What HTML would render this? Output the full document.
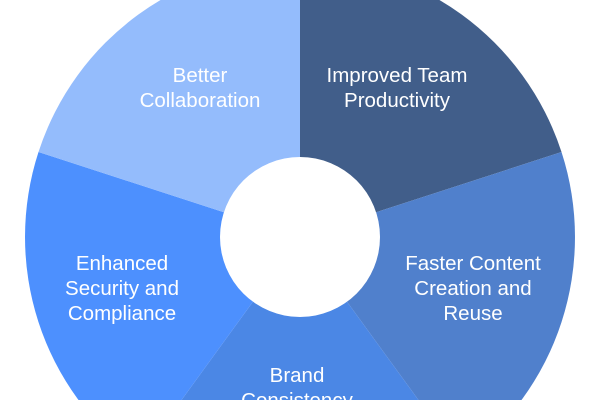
<!DOCTYPE html>
<html><head><meta charset="utf-8"><style>
html,body{margin:0;padding:0;background:#fff;width:600px;height:400px;overflow:hidden;}
svg{display:block;}
text{font-family:"Liberation Sans",Arial,sans-serif;font-size:20.5px;fill:#fff;text-anchor:middle;}
</style></head><body>
<svg width="600" height="400" viewBox="0 0 600 400">
<path d="M300,237 L300,-38 A275,275 0 0 1 561.5,152 Z" fill="#415e8a"/>
<path d="M300,237 L561.5,152 A275,275 0 0 1 461.7,459.5 Z" fill="#5080cc"/>
<path d="M300,237 L461.7,459.5 A275,275 0 0 1 138.3,459.5 Z" fill="#4b87e5"/>
<path d="M300,237 L138.3,459.5 A275,275 0 0 1 38.5,152 Z" fill="#4d90fe"/>
<path d="M300,237 L38.5,152 A275,275 0 0 1 300,-38 Z" fill="#94bcfc"/>
<circle cx="300" cy="237" r="80" fill="#fff"/>
<text x="200" y="82">Better</text>
<text x="200" y="107">Collaboration</text>
<text x="397" y="82">Improved Team</text>
<text x="397" y="107">Productivity</text>
<text x="473" y="270">Faster Content</text>
<text x="473" y="295">Creation and</text>
<text x="473" y="320">Reuse</text>
<text x="122" y="270">Enhanced</text>
<text x="122" y="295">Security and</text>
<text x="122" y="320">Compliance</text>
<text x="297" y="382">Brand</text>
<text x="297" y="407">Consistency</text>
</svg>
</body></html>
